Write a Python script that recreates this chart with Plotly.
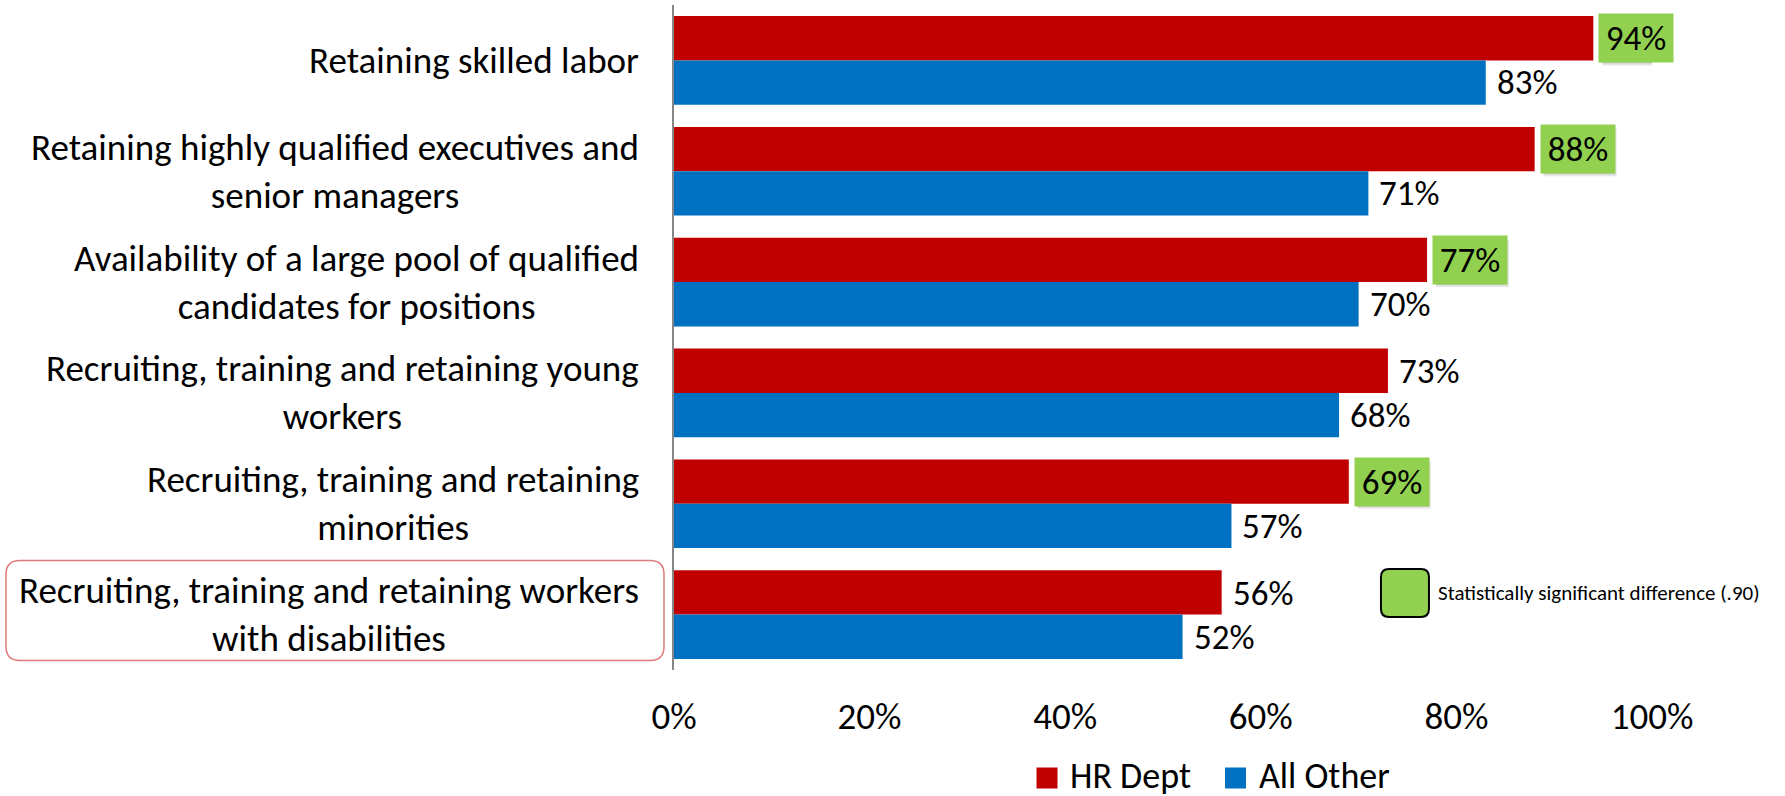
import plotly.graph_objects as go

categories = [
    "Retaining skilled labor",
    "Retaining highly qualified executives and<br>senior managers",
    "Availability of a large pool of qualified<br>candidates for positions",
    "Recruiting, training and retaining young<br>workers",
    "Recruiting, training and retaining<br>minorities",
    "Recruiting, training and retaining workers<br>with disabilities",
]
hr_dept = [94, 88, 77, 73, 69, 56]
all_other = [83, 71, 70, 68, 57, 52]
hr_significant = [True, True, True, False, True, False]
x_ticks = [0, 20, 40, 60, 80, 100]
highlight_category = categories[-1]
sig_note = "Statistically significant difference (.90)"
series_names = ["HR Dept", "All Other"]

RED = "#C00000"
BLUE = "#0070C0"
GREEN = "#92D050"
FONT = "Carlito, Lato, sans-serif"
FS = 37
VFS = 35

# legend layout (paper coordinates): swatch centre x, label left x, common y
LEGEND_SWATCH_X = [0.3814, 0.5741]
LEGEND_LABEL_X = [0.4029, 0.5961]
LEGEND_Y = -0.1624

fig = go.Figure()
for name, vals, col in zip(series_names, [hr_dept, all_other], [RED, BLUE]):
    fig.add_trace(go.Bar(y=categories, x=vals, orientation="h", name=name, showlegend=False,
                         marker=dict(color=col, line=dict(width=0))))


def rounded(x0, y0, x1, y1, r):
    return (f"M{x0+r},{y0} L{x1-r},{y0} Q{x1},{y0} {x1},{y0+r} "
            f"L{x1},{y1-r} Q{x1},{y1} {x1-r},{y1} L{x0+r},{y1} "
            f"Q{x0},{y1} {x0},{y1-r} L{x0},{y0+r} Q{x0},{y0} {x0+r},{y0} Z")


ann = []
shapes = []
# category labels
for c in categories:
    ann.append(dict(x=0, xref="paper", y=c, yref="y", xanchor="right", yanchor="middle",
                    xshift=-33, text=c, align="center", showarrow=False,
                    font=dict(family=FONT, size=FS, color="black")))
# value labels
for i, (c, v, sig) in enumerate(zip(categories, hr_dept, hr_significant)):
    if sig:
        # soft drop shadow behind the green box
        shapes.append(dict(type="rect", xref="x", yref="y", xsizemode="pixel", ysizemode="pixel",
                           xanchor=v, yanchor=i, x0=9, x1=82, y0=-5, y1=42,
                           fillcolor="rgba(0,0,0,0.10)", line=dict(width=0), layer="above"))
        shapes.append(dict(type="rect", xref="x", yref="y", xsizemode="pixel", ysizemode="pixel",
                           xanchor=v, yanchor=i, x0=8, x1=80, y0=-3, y1=43,
                           fillcolor="rgba(0,0,0,0.12)", line=dict(width=0), layer="above"))
        ann.append(dict(x=v, y=c, xref="x", yref="y", xanchor="left", yanchor="middle",
                        xshift=5, yshift=22, text=f"{v}%", showarrow=False,
                        width=72, height=46, bgcolor=GREEN, align="center",
                        font=dict(family=FONT, size=VFS, color="black")))
    else:
        ann.append(dict(x=v, y=c, xref="x", yref="y", xanchor="left", yanchor="middle",
                        xshift=9, yshift=22, text=f"{v}%", showarrow=False,
                        font=dict(family=FONT, size=VFS, color="black")))
for c, v in zip(categories, all_other):
    ann.append(dict(x=v, y=c, xref="x", yref="y", xanchor="left", yanchor="middle",
                    xshift=9, yshift=-22, text=f"{v}%", showarrow=False,
                    font=dict(family=FONT, size=VFS, color="black")))

# significance note
ann.append(dict(x=0.7474, xref="paper", y=0.1158, yref="paper", xanchor="left", yanchor="middle",
                xshift=31, text=sig_note, showarrow=False,
                font=dict(family=FONT, size=21, color="black")))

# series legend
for name, col, sx, lx in zip(series_names, [RED, BLUE], LEGEND_SWATCH_X, LEGEND_LABEL_X):
    shapes.append(dict(type="rect", xref="paper", yref="paper", xsizemode="pixel", ysizemode="pixel",
                       xanchor=sx, yanchor=LEGEND_Y, x0=-10.5, x1=10.5, y0=-10.5, y1=10.5,
                       fillcolor=col, line=dict(width=0)))
    ann.append(dict(x=lx, xref="paper", y=LEGEND_Y, yref="paper", xanchor="left", yanchor="middle",
                    yshift=2, text=name, showarrow=False,
                    font=dict(family=FONT, size=36, color="black")))

shapes += [
    dict(type="path", xref="paper", yref="y", xsizemode="pixel", ysizemode="pixel",
         xanchor=0, yanchor=categories.index(highlight_category),
         path=rounded(-668, -46, -10, 54, 14),
         line=dict(color="#E07A7A", width=1.5), fillcolor="rgba(0,0,0,0)", layer="above"),
    dict(type="path", xref="paper", yref="paper", xsizemode="pixel", ysizemode="pixel",
         xanchor=0.7474, yanchor=0.1158,
         path=rounded(-24, -24, 24, 24, 8),
         line=dict(color="black", width=2), fillcolor=GREEN, layer="above"),
]

fig.update_layout(
    width=1785, height=796,
    margin=dict(l=674, r=133, t=5, b=126, autoexpand=False),
    barmode="group", bargap=0.2, bargroupgap=0,
    plot_bgcolor="white", paper_bgcolor="white",
    showlegend=False,
    font=dict(family=FONT, size=FS, color="black"),
    xaxis=dict(range=[0, 100], tickvals=x_ticks, ticktext=[f"{t}%" for t in x_ticks],
               showgrid=False, zeroline=False, showline=False,
               ticks="outside", ticklen=14, tickcolor="rgba(0,0,0,0)",
               tickfont=dict(family=FONT, size=FS, color="black")),
    yaxis=dict(autorange="reversed", showticklabels=False, showgrid=False, zeroline=False,
               showline=True, linecolor="#868686", linewidth=2, ticks=""),
    annotations=ann, shapes=shapes,
)

fig.write_html("out.html", config={"displayModeBar": False},
               post_script="document.body.style.margin='0';document.body.style.overflow='hidden';")
